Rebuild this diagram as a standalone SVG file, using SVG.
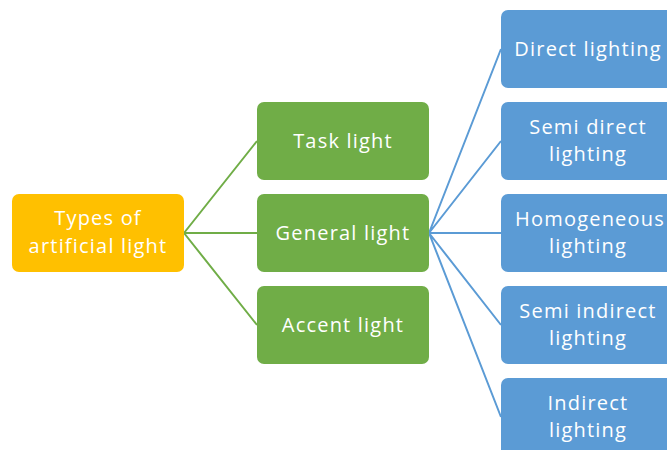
<svg xmlns="http://www.w3.org/2000/svg" width="667" height="450" viewBox="0 0 667 450">
<style>
.t{font-family:"Open Sans","Noto Sans",sans-serif;font-size:20px;letter-spacing:1.2px;fill:#fff;text-anchor:middle}
.y{fill:#FFC000}
.g{fill:#70AD47}
.b{fill:#5B9BD5}
.cg{stroke:#70AD47;stroke-width:2;fill:none}
.cb{stroke:#5B9BD5;stroke-width:2;fill:none}
</style>
<rect width="667" height="450" fill="#fff"/>
<g id="connectors">
<path class="cg" d="M184 233L257 141M184 233L257 233M184 233L257 325"/>
<path class="cb" d="M429 233L501 49M429 233L501 141M429 233L501 233M429 233L501 325M429 233L501 417"/>
</g>
<g id="types"><rect class="y" x="12" y="194" width="172" height="78" rx="7"/><text class="t" x="98" y="225">Types of</text><text class="t" x="98" y="253">artificial light</text></g>
<g id="task"><rect class="g" x="257" y="102" width="172" height="78" rx="7"/><text class="t" x="343" y="148">Task light</text></g>
<g id="general"><rect class="g" x="257" y="194" width="172" height="78" rx="7"/><text class="t" x="343" y="240">General  light</text></g>
<g id="accent"><rect class="g" x="257" y="286" width="172" height="78" rx="7"/><text class="t" x="343" y="332">Accent light</text></g>
<g id="direct"><rect class="b" x="501" y="10" width="172" height="78" rx="7"/><text class="t" x="588" y="56">Direct lighting</text></g>
<g id="semidirect"><rect class="b" x="501" y="102" width="172" height="78" rx="7"/><text class="t" x="588" y="134">Semi direct</text><text class="t" x="588" y="161">lighting</text></g>
<g id="homogeneous"><rect class="b" x="501" y="194" width="172" height="78" rx="7"/><text class="t" x="590" y="226">Homogeneous</text><text class="t" x="588" y="253">lighting</text></g>
<g id="semiindirect"><rect class="b" x="501" y="286" width="172" height="78" rx="7"/><text class="t" x="588" y="318">Semi indirect</text><text class="t" x="588" y="345">lighting</text></g>
<g id="indirect"><rect class="b" x="501" y="378" width="172" height="78" rx="7"/><text class="t" x="588" y="410">Indirect</text><text class="t" x="588" y="437">lighting</text></g>
</svg>
